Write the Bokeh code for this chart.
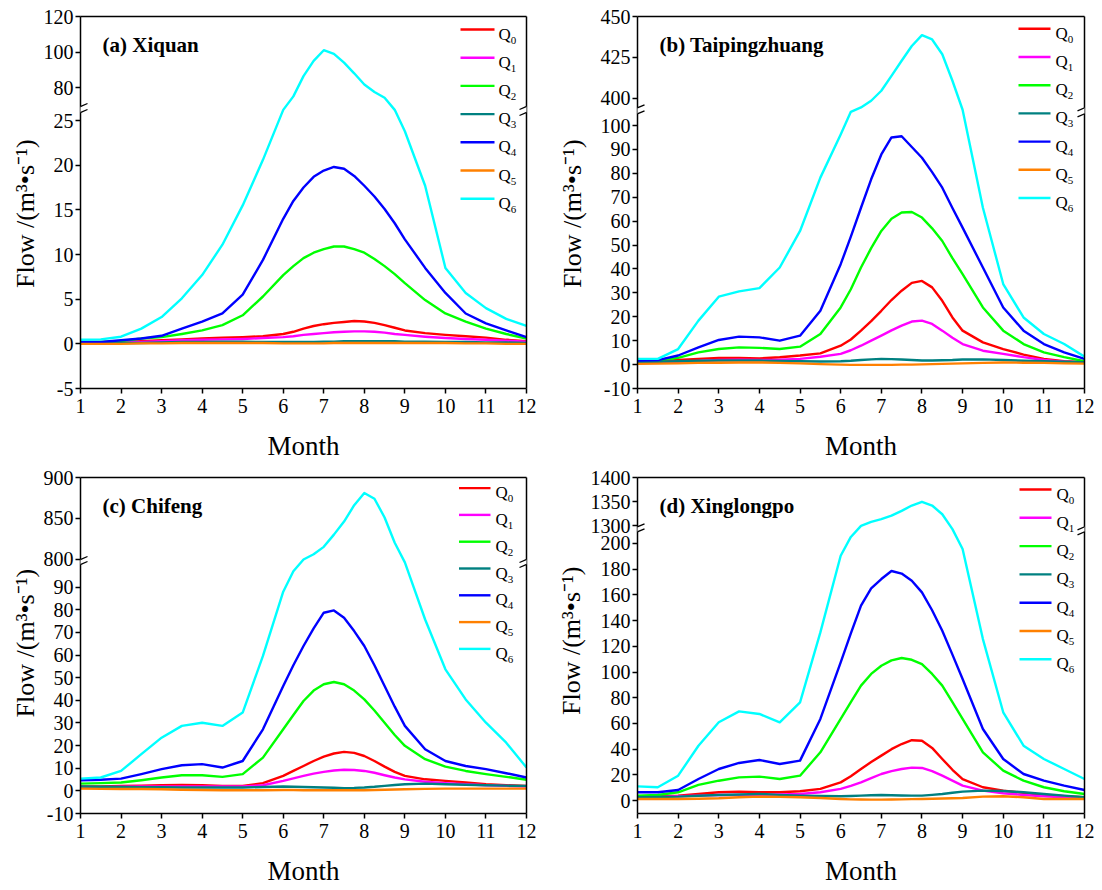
import math

from bokeh.embed import file_html
from bokeh.layouts import column, row
from bokeh.models import (Arrow, ColumnDataSource, CustomJSTickFormatter,
                          CustomJSTransform, FixedTicker, Label, LinearAxis,
                          Range1d)
from bokeh.plotting import figure
from bokeh.resources import INLINE
from bokeh.transform import transform

# ---------------------------------------------------------------- data
# sampling months (half-monthly, quarter-monthly around the summer peak)
MONTH = [1, 1.5, 2, 2.5, 3, 3.5, 4, 4.5, 5, 5.5, 6,
         6.25, 6.5, 6.75, 7, 7.25, 7.5, 7.75, 8, 8.25, 8.5, 8.75, 9,
         9.5, 10, 10.5, 11, 11.5, 12]

# (a) Xiquan
XQ_Q0 = [0.1, 0.1, 0.2, 0.3, 0.4, 0.5, 0.6, 0.7, 0.75, 0.85, 1.1,
         1.35, 1.7, 2.0, 2.2, 2.35, 2.45, 2.55, 2.5, 2.35, 2.1, 1.8, 1.5,
         1.2, 1.0, 0.85, 0.7, 0.45, 0.3]
XQ_Q1 = [0.1, 0.1, 0.15, 0.2, 0.3, 0.4, 0.45, 0.5, 0.55, 0.65, 0.75,
         0.85, 1.0, 1.1, 1.2, 1.3, 1.35, 1.4, 1.4, 1.35, 1.25, 1.1, 1.0,
         0.8, 0.65, 0.55, 0.45, 0.35, 0.25]
XQ_Q2 = [0.2, 0.2, 0.3, 0.6, 0.75, 1.1, 1.5, 2.1, 3.2, 5.3, 7.7,
         8.7, 9.6, 10.2, 10.6, 10.9, 10.9, 10.6, 10.2, 9.5, 8.7, 7.8, 6.8,
         4.9, 3.4, 2.5, 1.7, 1.1, 0.6]
XQ_Q3 = [0.05, 0.05, 0.1, 0.1, 0.15, 0.2, 0.2, 0.25, 0.25, 0.2, 0.2,
         0.2, 0.2, 0.2, 0.25, 0.25, 0.3, 0.3, 0.3, 0.3, 0.3, 0.3, 0.25,
         0.25, 0.2, 0.2, 0.15, 0.15, 0.1]
XQ_Q4 = [0.2, 0.2, 0.4, 0.6, 0.9, 1.7, 2.5, 3.4, 5.5, 9.4, 14.0,
         16.0, 17.5, 18.7, 19.4, 19.8, 19.6, 18.8, 17.7, 16.5, 15.1, 13.5, 11.7,
         8.5, 5.7, 3.4, 2.3, 1.5, 0.75]
XQ_Q5 = [0.0, 0.0, 0.0, 0.05, 0.05, 0.1, 0.1, 0.1, 0.1, 0.1, 0.05,
         0.05, 0.05, 0.05, 0.05, 0.1, 0.1, 0.1, 0.1, 0.1, 0.1, 0.1, 0.1,
         0.1, 0.1, 0.05, 0.05, 0.0, 0.0]
XQ_Q6 = [0.45, 0.5, 0.8, 1.7, 3.0, 5.1, 7.7, 11.1, 15.5, 20.6, 45,
         75, 86.4, 95, 101, 99, 94, 88, 81.7, 77.5, 74.2, 45, 23.8,
         17.7, 8.5, 5.7, 4.0, 2.8, 2.0]

# (b) Taipingzhuang
TP_Q0 = [1.0, 1.2, 1.9, 2.4, 2.8, 2.8, 2.6, 3.1, 3.8, 4.7, 7.9,
         10.5, 14.2, 18.2, 22.5, 27.0, 30.9, 34.2, 35.0, 32.3, 26.7, 19.7, 14.2,
         9.3, 6.5, 4.2, 2.4, 1.4, 1.0]
TP_Q1 = [0.6, 0.9, 1.2, 1.5, 1.9, 2.0, 1.9, 2.0, 2.4, 3.3, 4.5,
         6.0, 7.9, 10.0, 12.1, 14.3, 16.3, 18.0, 18.4, 17.0, 14.2, 11.2, 8.6,
         5.8, 4.5, 3.1, 1.9, 1.2, 0.8]
TP_Q2 = [1.4, 1.7, 2.8, 5.1, 6.5, 7.2, 7.0, 6.5, 7.5, 12.8, 23.9,
         31.5, 40.6, 48.7, 55.9, 61.0, 63.6, 63.8, 61.5, 57.0, 51.7, 44.5, 37.8,
         23.9, 14.2, 8.6, 5.1, 3.1, 1.4]
TP_Q3 = [1.0, 1.2, 1.4, 1.6, 1.7, 1.7, 1.7, 1.5, 1.4, 1.3, 1.4,
         1.6, 1.9, 2.2, 2.4, 2.3, 2.1, 1.9, 1.7, 1.7, 1.8, 1.9, 2.1,
         2.2, 1.9, 1.6, 1.4, 1.2, 1.0]
TP_Q4 = [1.7, 1.9, 3.8, 7.2, 10.3, 11.7, 11.4, 10.0, 12.1, 22.5, 42.0,
         53.5, 65.6, 77.5, 87.9, 95.0, 95.5, 91.0, 86.5, 80.5, 74.0, 65.5, 57.3,
         40.6, 23.9, 14.2, 8.6, 5.1, 2.4]
TP_Q5 = [0.3, 0.4, 0.5, 0.7, 0.8, 0.9, 0.9, 0.7, 0.5, 0.2, 0.0,
         -0.1, -0.1, -0.1, -0.1, -0.1, 0.0, 0.0, 0.1, 0.2, 0.3, 0.4, 0.5,
         0.7, 0.9, 0.8, 0.7, 0.5, 0.4]
TP_Q6 = [2.4, 2.4, 6.5, 18.4, 28.4, 30.6, 32.0, 40.6, 55.9, 78.2, 96.2,
         200, 394.5, 398.6, 404.7, 413.8, 423, 432, 438.6, 436, 427, 410.8, 300,
         65.6, 33.7, 19.7, 12.8, 8.6, 3.3]

# (c) Chifeng
CF_Q0 = [1.9, 2.0, 2.2, 2.3, 2.5, 2.6, 2.5, 2.2, 2.2, 3.4, 6.6,
         8.8, 11.0, 13.2, 15.1, 16.5, 17.2, 16.8, 15.4, 13.2, 10.7, 8.4, 6.6,
         5.1, 4.4, 3.7, 2.9, 2.5, 2.2]
CF_Q1 = [1.5, 1.6, 1.8, 1.9, 1.9, 1.9, 1.9, 1.9, 1.9, 2.5, 4.4,
         5.5, 6.6, 7.6, 8.4, 9.0, 9.3, 9.2, 8.8, 8.0, 6.9, 5.9, 5.1,
         4.0, 3.4, 2.9, 2.5, 2.2, 1.9]
CF_Q2 = [3.2, 3.4, 3.7, 4.7, 5.9, 6.9, 6.9, 6.2, 7.4, 14.7, 27.2,
         33.5, 39.7, 44.3, 47.1, 48.1, 47.1, 44.3, 40.4, 35.5, 30.1, 24.7, 19.9,
         14.0, 10.7, 8.8, 7.4, 6.2, 4.9]
CF_Q3 = [1.9, 1.8, 1.7, 1.6, 1.6, 1.5, 1.5, 1.5, 1.5, 1.7, 1.9,
         1.8, 1.7, 1.6, 1.5, 1.4, 1.2, 1.3, 1.5, 1.8, 2.2, 2.6, 2.9,
         3.2, 2.9, 2.7, 2.5, 2.3, 2.2]
CF_Q4 = [4.7, 4.9, 5.4, 7.4, 9.6, 11.3, 11.8, 10.3, 13.2, 27.2, 46.3,
         55.5, 64.0, 71.8, 78.7, 79.7, 76.5, 70.6, 64.0, 55.5, 46.3, 37.2, 28.7,
         18.4, 13.2, 11.0, 9.6, 7.8, 5.9]
CF_Q5 = [1.0, 0.9, 0.8, 0.8, 0.7, 0.5, 0.4, 0.3, 0.3, 0.3, 0.4,
         0.4, 0.3, 0.3, 0.3, 0.3, 0.3, 0.3, 0.3, 0.4, 0.5, 0.6, 0.7,
         0.9, 1.0, 1.0, 1.0, 1.0, 1.0]
CF_Q6 = [5.4, 5.9, 8.8, 16.2, 23.5, 28.7, 30.1, 28.7, 34.6, 59.6, 88.0,
         97, 799, 806, 815, 830, 846, 866, 881, 874, 851, 820, 400,
         75.7, 53.7, 40.4, 30.1, 21.3, 10.3]

# (d) Xinglongpo
XL_Q0 = [3.4, 3.6, 3.9, 5.2, 6.5, 7.0, 6.5, 6.5, 7.3, 9.1, 14.2,
         19.0, 24.6, 30.0, 35.0, 40.0, 44.0, 47.0, 46.6, 41.0, 32.4, 24.0, 16.8,
         10.4, 7.8, 6.0, 4.4, 3.4, 2.6]
XL_Q1 = [2.6, 2.9, 3.4, 3.9, 4.4, 4.4, 4.4, 4.8, 5.2, 6.5, 9.1,
         11.5, 14.2, 17.5, 20.7, 23.0, 24.6, 25.7, 25.4, 23.0, 19.4, 15.5, 11.7,
         7.8, 5.7, 4.4, 3.4, 2.6, 1.8]
XL_Q2 = [3.9, 4.4, 6.5, 12.2, 15.5, 18.1, 18.7, 16.8, 19.4, 37.6, 63.5,
         76.5, 89.4, 98.5, 104.9, 109.0, 110.9, 109.5, 106.2, 98.5, 89.4, 76.5, 63.5,
         37.6, 23.3, 15.5, 10.4, 7.3, 5.2]
XL_Q3 = [2.6, 2.8, 3.1, 3.8, 4.4, 4.8, 5.2, 4.5, 3.9, 3.6, 3.4,
         3.6, 3.9, 4.2, 4.4, 4.2, 4.0, 3.9, 3.9, 4.5, 5.2, 6.1, 7.0,
         7.8, 7.5, 6.5, 5.2, 3.9, 2.6]
XL_Q4 = [6.5, 6.5, 8.3, 16.8, 24.6, 29.3, 31.6, 28.5, 31.1, 63.5, 107.5,
         130.0, 151.6, 165.0, 172.3, 178.5, 176.5, 171.0, 161.9, 148.0, 132.1, 113.5, 94.6,
         55.7, 32.4, 20.7, 15.5, 11.7, 8.3]
XL_Q5 = [1.3, 1.3, 1.3, 1.5, 1.8, 2.6, 3.1, 2.9, 2.6, 2.0, 1.3,
         1.0, 0.9, 0.8, 0.8, 0.9, 1.0, 1.2, 1.3, 1.5, 1.7, 1.9, 2.1,
         3.1, 3.4, 2.6, 1.3, 1.3, 1.3]
XL_Q6 = [11.1, 10.4, 19.4, 42.7, 60.9, 69.4, 67.4, 60.9, 76.4, 130.8, 190.4,
         205, 1300, 1308, 1313.8, 1321, 1331, 1342, 1349.7, 1342, 1324, 800, 195.6,
         125.6, 68.7, 42.7, 32.4, 24.6, 16.8]

SUBSCRIPTS = ["0", "1", "2", "3", "4", "5", "6"]
COLORS = ["#FF0000", "#FF00FF", "#00FF00", "#008080", "#0000FF", "#FF8000", "#00FFFF"]

FONT = "Liberation Serif"
Y_TITLE = "Flow /(m³•s⁻¹)"

# ---------------------------------------------------------------- panels
# lower/upper: value spans of the two axis segments; h_lower: pixel height of
# the lower segment; gap: pixel height of the axis break
PANELS = {
    "a": dict(title="(a) Xiquan",
              series=[XQ_Q0, XQ_Q1, XQ_Q2, XQ_Q3, XQ_Q4, XQ_Q5, XQ_Q6],
              lower=(-5, 25.9), upper=(69.3, 120), h_lower=276, gap=6,
              ticks=[-5, 0, 5, 10, 15, 20, 25, 80, 100, 120],
              size=(515, 464), border=(40, 29, 16, 76),
              legend=dict(first=13, step=28.2, x0=-66, x1=-32, tx=-28),
              ylab=dict(width=40, x=24.5, y=218)),
    "b": dict(title="(b) Taipingzhuang",
              series=[TP_Q0, TP_Q1, TP_Q2, TP_Q3, TP_Q4, TP_Q5, TP_Q6],
              lower=(-10, 104.9), upper=(394.3, 450), h_lower=274.7, gap=6,
              ticks=[-10, 0, 10, 20, 30, 40, 50, 60, 70, 80, 90, 100, 400, 425, 450],
              size=(505, 464), border=(40, 18, 16, 76),
              legend=dict(first=12.3, step=28.2, x0=-66, x1=-34, tx=-29),
              ylab=dict(width=42, x=17, y=218)),
    "c": dict(title="(c) Chifeng",
              series=[CF_Q0, CF_Q1, CF_Q2, CF_Q3, CF_Q4, CF_Q5, CF_Q6],
              lower=(-10, 100), upper=(799.5, 900), h_lower=249, gap=5,
              ticks=[-10, 0, 10, 20, 30, 40, 50, 60, 70, 80, 90, 800, 850, 900],
              size=(515, 426), border=(40, 29, 13, 77),
              legend=dict(first=10.6, step=26.8, x0=-67.5, x1=-36, tx=-31),
              ylab=dict(width=40, x=24.5, y=216)),
    "d": dict(title="(d) Xinglongpo",
              series=[XL_Q0, XL_Q1, XL_Q2, XL_Q3, XL_Q4, XL_Q5, XL_Q6],
              lower=(-10, 209), upper=(1298, 1400), h_lower=281.7, gap=5,
              ticks=[0, 20, 40, 60, 80, 100, 120, 140, 160, 180, 200, 1300, 1350, 1400],
              size=(515, 426), border=(50, 18, 13, 77),
              legend=dict(first=12, step=28.3, x0=-65, x1=-33, tx=-28),
              ylab=dict(width=32, x=16, y=219)),
}

# value -> position on the broken axis (pixels above the frame bottom)
FORWARD_JS = """
const out = new Array(xs.length)
for (let i = 0; i < xs.length; i++) {
  const v = xs[i]
  if (v <= lmax) out[i] = (v - lmin) / (lmax - lmin) * hl
  else if (v < umin) out[i] = hl + (v - lmax) / (umin - lmax) * gap
  else out[i] = hl + gap + (v - umin) / (umax - umin) * (H - hl - gap)
}
return out
"""

# position on the broken axis -> value, for the tick labels
INVERSE_JS = """
let v
if (tick <= hl + 1e-6) v = lmin + tick / hl * (lmax - lmin)
else if (tick < hl + gap) v = lmax + (tick - hl) / gap * (umin - lmax)
else v = umin + (tick - hl - gap) / (H - hl - gap) * (umax - umin)
return Math.round(v).toString()
"""


def axis_pos(v, lmin, lmax, umin, umax, hl, gap, H):
    if v <= lmax:
        return (v - lmin) / (lmax - lmin) * hl
    if v < umin:
        return hl + (v - lmax) / (umin - lmax) * gap
    return hl + gap + (v - umin) / (umax - umin) * (H - hl - gap)


def make_ytitle(cfg):
    """Narrow strip left of a panel carrying the rotated y-axis title."""
    lab = cfg["ylab"]
    height = cfg["size"][1]
    s = figure(width=lab["width"], height=height, x_range=Range1d(0, lab["width"]),
               y_range=Range1d(0, height), output_backend="svg", toolbar_location=None,
               tools="", x_axis_location=None, y_axis_location=None,
               min_border=0, min_border_left=0, min_border_right=0,
               min_border_top=0, min_border_bottom=0)
    s.grid.visible = False
    s.outline_line_color = None
    s.add_layout(Label(x=lab["x"], y=lab["y"], text=Y_TITLE, angle=math.pi / 2,
                       text_align="center", text_baseline="middle",
                       text_font=FONT, text_font_size="26px", text_color="black"))
    return s


def make_panel(cfg):
    width, height = cfg["size"]
    bl, br, bt, bb = cfg["border"]
    W = width - bl - br
    H = height - bt - bb
    lmin, lmax = cfg["lower"]
    umin, umax = cfg["upper"]
    hl, gap = cfg["h_lower"], cfg["gap"]
    brk = dict(lmin=lmin, lmax=lmax, umin=umin, umax=umax, hl=hl, gap=gap, H=H)

    p = figure(width=width, height=height, x_range=Range1d(1, 12), y_range=Range1d(0, H),
               output_backend="svg", toolbar_location=None, tools="",
               min_border_left=bl, min_border_right=br,
               min_border_top=bt, min_border_bottom=bb)
    p.extra_x_ranges = {"px": Range1d(0, W)}
    p.grid.visible = False
    p.outline_line_color = None
    p.background_fill_color = "white"
    p.border_fill_color = "white"

    # curves
    src = ColumnDataSource(dict(month=MONTH, **{f"q{i}": s for i, s in enumerate(cfg["series"])}))
    ymap = CustomJSTransform(args=brk, v_func=FORWARD_JS)
    for i, col in enumerate(COLORS):
        p.line("month", transform(f"q{i}", ymap), source=src,
               line_color=col, line_width=2.4, line_join="round")

    # axes
    xa = p.xaxis[0]
    xa.ticker = FixedTicker(ticks=list(range(1, 13)))
    xa.axis_label = "Month"
    xa.axis_label_text_font = FONT
    xa.axis_label_text_font_size = "27px"
    xa.axis_label_text_font_style = "normal"
    xa.axis_label_text_color = "black"
    xa.axis_label_standoff = 15
    xa.major_label_standoff = 5

    ya = p.yaxis[0]
    ya.ticker = FixedTicker(ticks=[axis_pos(t, **brk) for t in cfg["ticks"]])
    ya.formatter = CustomJSTickFormatter(args=brk, code=INVERSE_JS)
    ya.major_label_standoff = 2

    for ax in (xa, ya):
        ax.axis_line_width = 1.5
        ax.axis_line_color = "black"
        ax.major_tick_line_width = 1.5
        ax.major_tick_line_color = "black"
        ax.major_tick_in = 0
        ax.major_tick_out = 5
        ax.minor_tick_line_color = None
        ax.major_label_text_font = FONT
        ax.major_label_text_font_size = "20px"
        ax.major_label_text_color = "black"

    for place in ("above", "right"):
        edge = LinearAxis(ticker=FixedTicker(ticks=[]), axis_line_width=1.5,
                          axis_line_color="black", major_tick_line_color=None,
                          minor_tick_line_color=None, major_label_text_font_size="0px")
        p.add_layout(edge, place)

    # axis break: hide the frame lines across the gap, then draw the // marks
    for xe in (0, W):
        p.add_layout(Arrow(end=None, x_start=xe, y_start=hl, x_end=xe, y_end=hl + gap,
                           x_range_name="px", line_color="white", line_width=4))
        for yc in (hl, hl + gap):
            p.add_layout(Arrow(end=None, x_start=xe - 7, y_start=yc - 3,
                               x_end=xe + 7, y_end=yc + 3, x_range_name="px",
                               line_color="black", line_width=1.3))

    # panel title
    p.add_layout(Label(x=22, y=H - 28, x_range_name="px", text=cfg["title"],
                       text_align="left", text_baseline="alphabetic",
                       text_font=FONT, text_font_size="21px", text_font_style="bold",
                       text_color="black"))

    # legend
    lg = cfg["legend"]
    for i, (col, sub) in enumerate(zip(COLORS, SUBSCRIPTS)):
        yl = H - (lg["first"] + i * lg["step"])
        p.add_layout(Arrow(end=None, x_start=W + lg["x0"], y_start=yl, x_end=W + lg["x1"],
                           y_end=yl, x_range_name="px", line_color=col, line_width=2.4))
        p.add_layout(Label(x=W + lg["tx"], y=yl - 4.5, x_range_name="px", text="Q",
                           text_align="left", text_baseline="alphabetic",
                           text_font=FONT, text_font_size="17px", text_color="black"))
        p.add_layout(Label(x=W + lg["tx"] + 12.3, y=yl - 10.5, x_range_name="px", text=sub,
                           text_align="left", text_baseline="alphabetic",
                           text_font=FONT, text_font_size="11px", text_color="black"))
    return p


cells = {k: row(make_ytitle(c), make_panel(c), spacing=0) for k, c in PANELS.items()}

layout = row(column(cells["a"], cells["c"], spacing=0),
             column(cells["b"], cells["d"], spacing=0), spacing=0)

with open("out.html", "w") as f:
    f.write(file_html(layout, INLINE, title="Monthly flow"))
